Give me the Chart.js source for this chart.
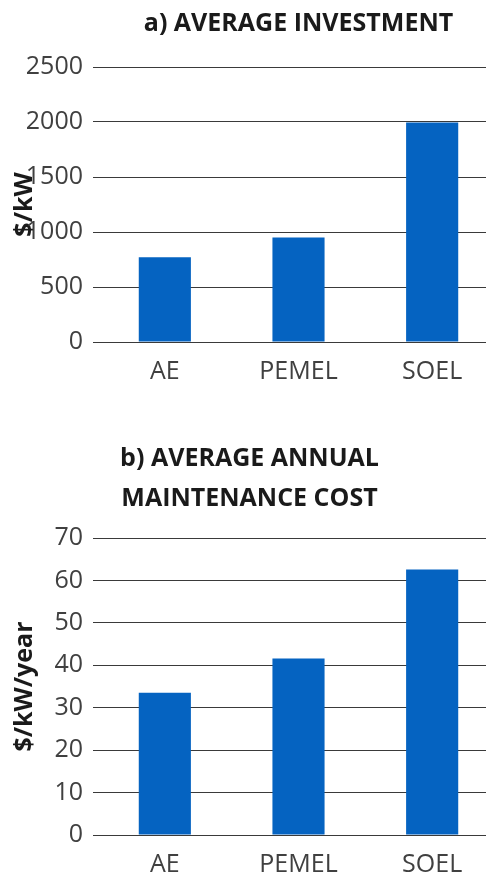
<!DOCTYPE html>
<html>
<head>
<meta charset="utf-8">
<script src="https://cdn.jsdelivr.net/npm/chart.js@4"></script>
<style>
  html, body { margin: 0; padding: 0; background: #fff; overflow: hidden; }
  canvas { display: block; }
</style>
</head>
<body>
<canvas id="investChart" width="500" height="394"></canvas>
<canvas id="maintChart" width="500" height="493"></canvas>
<script>
// data
const categories = ['AE', 'PEMEL', 'SOEL'];
const investment = [770, 950, 1995];      // $/kW
const maintenance = [33.5, 41.6, 62.6];   // $/kW/year

const barColor = '#0563C1';
const gridColor = '#3a3a3a';
const textColor = '#404040';

Chart.defaults.font.family = '"Open Sans", sans-serif';
Chart.defaults.color = textColor;

function makeConfig(values, title, yTitle, yMax, yStep, titleFull, titlePad) {
  return {
    type: 'bar',
    data: {
      labels: categories,
      datasets: [{
        data: values,
        backgroundColor: barColor,
        barPercentage: 0.65,
        categoryPercentage: 0.6,
      }]
    },
    options: {
      responsive: false,
      animation: false,
      layout: { padding: { right: 1, bottom: 0 } },
      plugins: {
        legend: { display: false },
        tooltip: { enabled: false },
        title: {
          display: true,
          text: title,
          fullSize: titleFull,
          color: '#1a1a1a',
          font: { size: 25, weight: 'bold', lineHeight: 1.6 },
          padding: titlePad
        }
      },
      scales: {
        x: {
          grid: { display: false },
          border: { display: false },
          ticks: { font: { size: 25 }, color: textColor, padding: 7 }
        },
        y: {
          min: 0,
          max: yMax,
          ticks: {
            stepSize: yStep,
            font: { size: 25 },
            color: textColor,
            padding: 10,
            callback: (v) => String(v)
          },
          grid: { color: gridColor, lineWidth: 1, tickLength: 5 },
          border: { display: false },
          title: {
            display: true,
            text: yTitle,
            color: '#1a1a1a',
            font: { size: 25, weight: 'bold' },
            padding: { top: 10, bottom: 0 }
          },
          afterFit: (scale) => { scale.width = 98; }
        }
      }
    }
  };
}

window.addEventListener('DOMContentLoaded', () => {
  new Chart(document.getElementById('investChart'),
    makeConfig(investment, 'a) AVERAGE INVESTMENT', '$/kW', 2500, 500, false, { top: 4, bottom: 23 }));
  new Chart(document.getElementById('maintChart'),
    makeConfig(maintenance, ['b) AVERAGE ANNUAL', 'MAINTENANCE COST'], '$/kW/year', 70, 10, true, { top: 45, bottom: 19 }));
});
</script>
</body>
</html>
